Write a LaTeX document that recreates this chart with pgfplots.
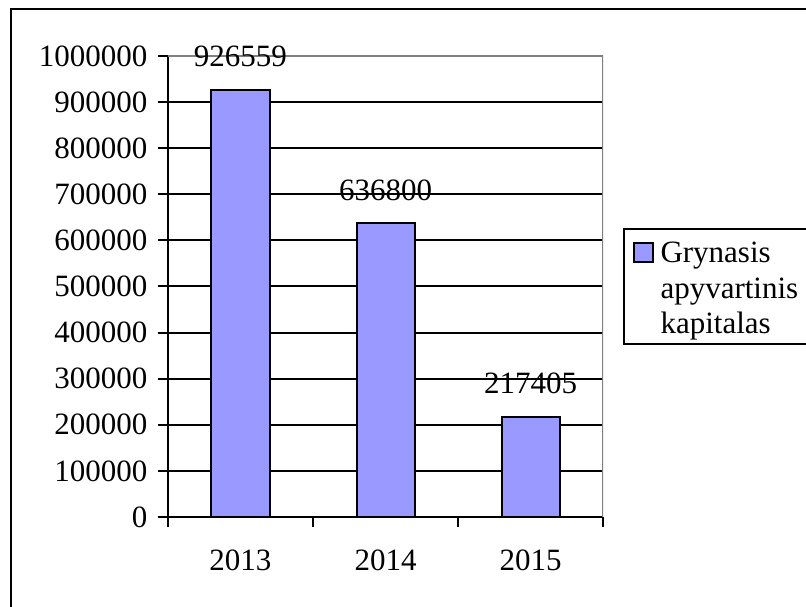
\documentclass[border=0pt]{standalone}
\usepackage{pgfplots}
\pgfplotsset{compat=1.18}
\usepackage{fontspec}
\setmainfont{Liberation Serif}
\definecolor{barfill}{HTML}{9999FF}
\definecolor{edgegray}{HTML}{808080}
\begin{document}
\fontsize{31}{35.5}\selectfont
\begin{tikzpicture}[x=1pt,y=1pt]
\useasboundingbox (0,0) rectangle (806,607);
\draw[line width=2.5pt] (11,-20) -- (11,598) -- (840,598);
\begin{axis}[
  at={(168pt,90pt)}, anchor=south west,
  width=435pt, height=461pt, scale only axis,
  xmin=-0.5, xmax=2.5, ymin=0, ymax=1000000,
  axis x line*=bottom, axis y line*=left,
  axis line style={black, line width=2pt, -},
  ytick={0,100000,200000,300000,400000,500000,600000,700000,800000,900000,1000000},
  scaled y ticks=false,
  /pgf/number format/assume math mode=true,
  yticklabel style={/pgf/number format/fixed, /pgf/number format/1000 sep={}},
  ymajorgrids, grid style={black, line width=2pt},
  tick style={black, line width=2pt},
  tick align=outside, major tick length=10pt,
  xtick={-0.5,0.5,1.5,2.5}, xticklabels={},
  extra x ticks={0,1,2}, extra x tick labels={2013,2014,2015},
  extra x tick style={major tick length=0pt, grid=none, xticklabel style={yshift=-22pt}},
  ybar, bar width=58pt,
  nodes near coords, point meta=explicit symbolic,
  nodes near coords style={anchor=south, inner sep=0pt, yshift=22pt},
  legend style={at={(1.046,0.627)}, anchor=north west, draw=black, line width=2pt, inner xsep=9pt, inner ysep=3pt},
  legend cell align=left,
]
\addplot[fill=barfill, draw=black, line width=2pt,
  legend image code/.code={\draw[fill=barfill, draw=black, line width=1.5pt] (0pt,24.4pt) rectangle (19pt,43.4pt);}]
  coordinates {(0,926559) [926559] (1,636800) [636800] (2,217405) [217405]};
\addlegendentry{\hspace*{5pt}\parbox[b]{180pt}{\raggedright\noindent\rule{0pt}{29pt}Grynasis\\apyvartinis\\kapitalas}}
\draw[edgegray, line width=2pt] (rel axis cs:0,1) -- (rel axis cs:1,1) -- (rel axis cs:1,0);
\end{axis}
\end{tikzpicture}
\end{document}
